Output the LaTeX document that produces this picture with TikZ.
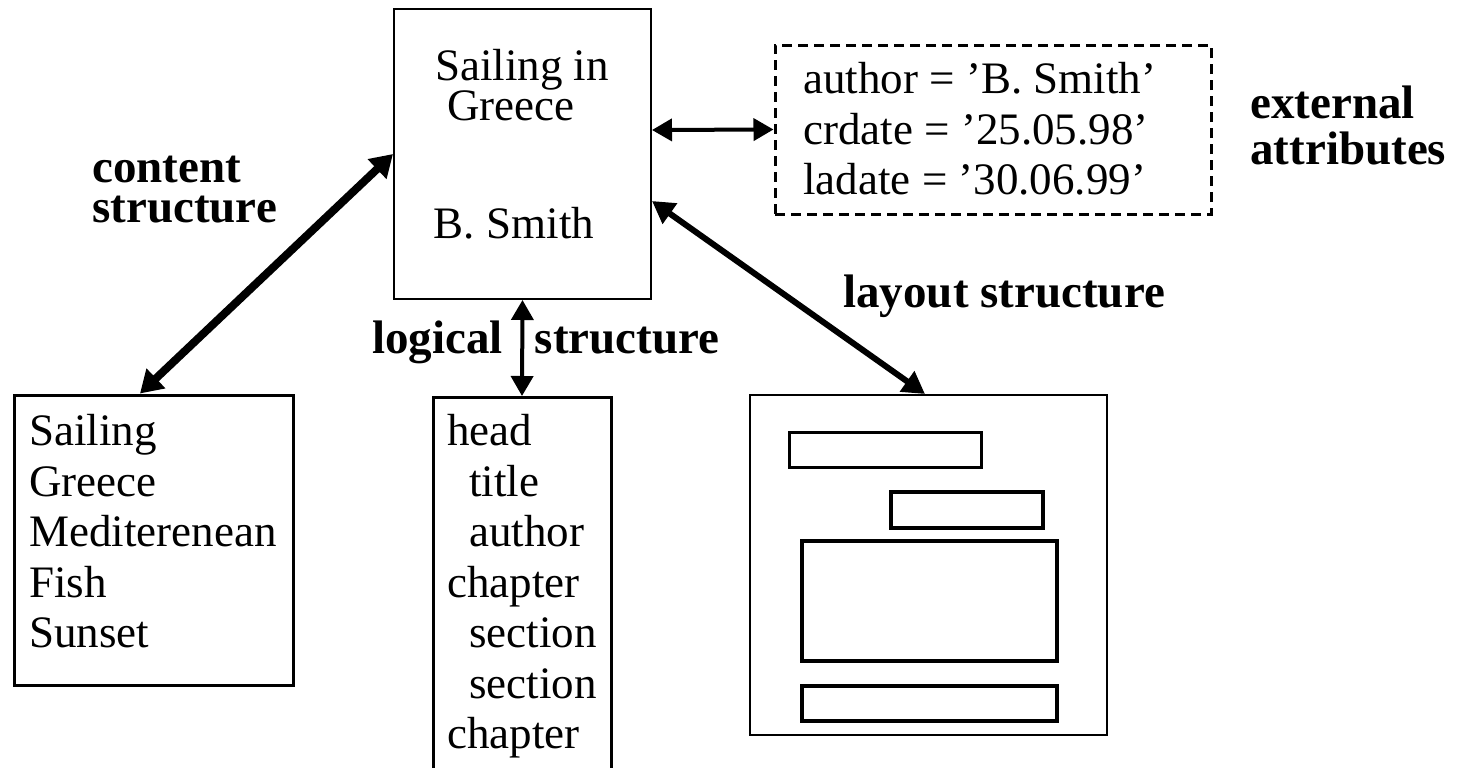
\documentclass[tikz,border=0pt]{standalone}
\usepackage{fontspec}
\setmainfont{Liberation Serif}
\usetikzlibrary{arrows.meta,positioning}

\tikzset{
  box/.style={draw, inner sep=0pt},
  listtext/.style={inner sep=0pt, anchor=north west, align=left,
    font=\fontsize{22.5}{25.25}\selectfont},
  bodytext/.style={inner sep=0pt, anchor=base, font=\fontsize{22.5}{25}\selectfont},
  tag/.style={inner sep=0pt, align=left, font=\bfseries\fontsize{23.5}{20}\selectfont},
  link/.style={{Triangle[length=10pt,width=11pt]}-{Triangle[length=10pt,width=11pt]}, line width=2pt},
}

\begin{document}
\begin{tikzpicture}[x=0.5pt, y=-0.5pt]
  \useasboundingbox (0,0) rectangle (1464,767);

  % document
  \node[box, line width=1pt, minimum width=128.5pt, minimum height=145pt] (doc) at (522.5,154) {};
  \node[bodytext] (title) at (522,80) {Sailing in};
  \node[bodytext] (titlecont) at (511,120) {Greece};
  \node[bodytext] (author) at (514,238) {B. Smith};

  % external attributes
  \node[box, dash pattern=on 5pt off 3pt, line width=1.5pt, minimum width=218pt, minimum height=84.5pt] (attr) at (993,129.5) {};
  \node[listtext] (attrlist) at (803,62) {author = 'B. Smith'\\crdate = '25.05.98'\\ladate = '30.06.99'};
  \node[tag, anchor=north west, font=\bfseries\fontsize{23.5}{23}\selectfont] (exttag) at (1250,85) {external\\attributes};

  % content structure
  \node[box, line width=1.5pt, minimum width=139.5pt, minimum height=145pt] (content) at (153.5,540) {};
  \node[listtext] (keywords) at (29,414) {Sailing\\Greece\\Mediterenean\\Fish\\Sunset};
  \node[tag, anchor=north west] (contag) at (92,156) {content\\structure};

  % logical structure
  \node[box, line width=1.5pt, minimum width=89pt, minimum height=200pt, anchor=north] (logic) at (522,396) {};
  \node[listtext] (parts) at (447,414) {head\\\hspace*{11pt}title\\\hspace*{11pt}author\\chapter\\\hspace*{11pt}section\\\hspace*{11pt}section\\chapter};
  \node[tag, anchor=base west] (logtag) at (372,353) {logical\hspace{16pt}structure};

  % layout structure
  \node[box, line width=1pt, minimum width=178.5pt, minimum height=170pt] (layout) at (928.5,565) {};
  \draw[line width=1.5pt] (789,432) rectangle (981,467);
  \draw[line width=1.75pt] (891,492) rectangle (1043,528);
  \draw[line width=1.75pt] (802,541) rectangle (1057,661);
  \draw[line width=1.75pt] (802,686) rectangle (1057,721);
  \node[tag, anchor=base west] (laytag) at (843,307) {layout structure};

  % connectors
  \draw[link] ([yshift=12pt]doc.east) -- (attr.west);
  \draw[link, line width=4pt, {Triangle[length=11pt,width=13pt]}-{Triangle[length=11pt,width=13pt]}]
    (doc.west) -- ([xshift=-6.75pt]content.north);
  \draw[link] (doc.south) -- (logic.north);
  \draw[link, line width=3pt, {Triangle[length=11pt,width=12pt]}-{Triangle[length=11pt,width=12pt]}]
    ([yshift=-23.5pt]doc.east) -- ([xshift=-1.75pt]layout.north);
\end{tikzpicture}
\end{document}
